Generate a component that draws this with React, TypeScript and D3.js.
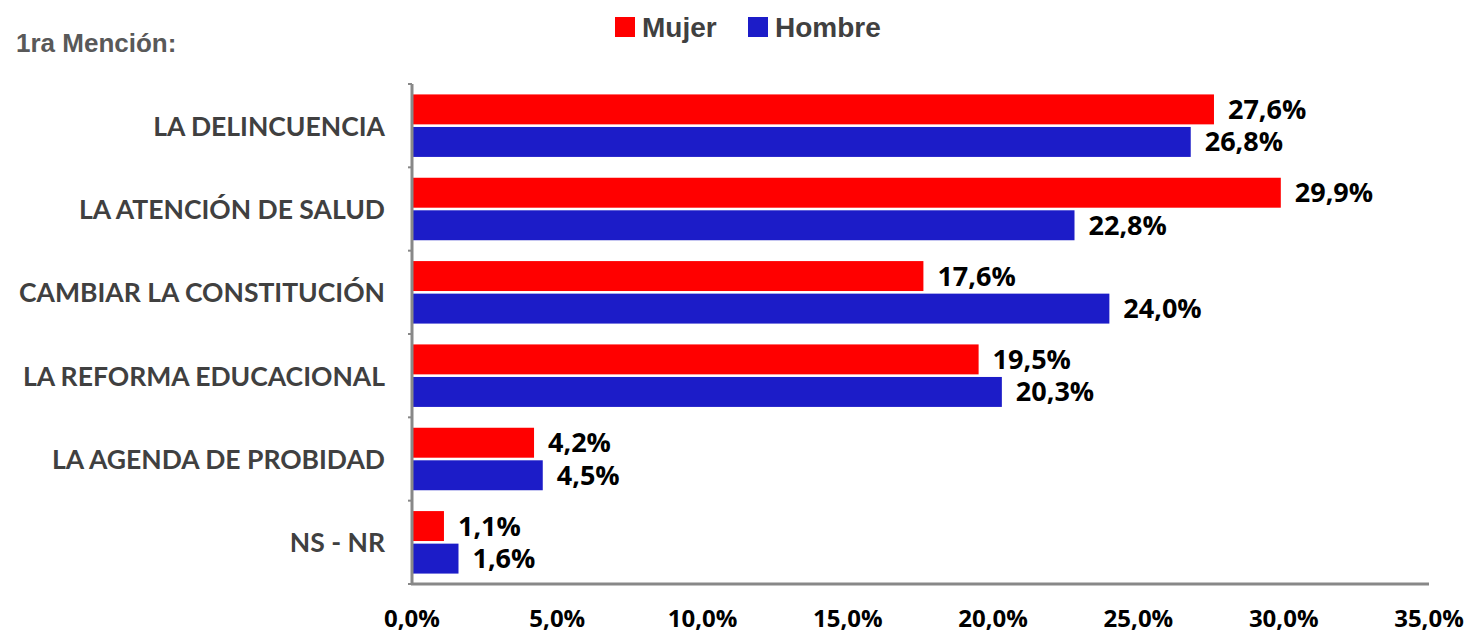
import React from "react";
import * as d3 from "d3";

const categories = [
  "LA DELINCUENCIA",
  "LA ATENCIÓN DE SALUD",
  "CAMBIAR LA CONSTITUCIÓN",
  "LA REFORMA EDUCACIONAL",
  "LA AGENDA DE PROBIDAD",
  "NS - NR",
];
const seriesNames = ["Mujer", "Hombre"];
const mujer = [27.6, 29.9, 17.6, 19.5, 4.2, 1.1];
const hombre = [26.8, 22.8, 24.0, 20.3, 4.5, 1.6];
const xTicks = [0, 5, 10, 15, 20, 25, 30, 35];
const title = "1ra Mención:";

const colors: Record<string, string> = { Mujer: "#ff0000", Hombre: "#1c1cc8" };

const W = 1467;
const H = 634;
const fmt = (v: number) => v.toFixed(1).replace(".", ",") + "%";

export default function App() {
  const x = d3.scaleLinear().domain([0, 35]).range([412, 1429]);
  const y = d3
    .scaleBand<string>()
    .domain(categories)
    .range([84, 584])
    .paddingInner(0.25)
    .paddingOuter(0.125);
  const ys = d3
    .scaleBand<string>()
    .domain(seriesNames)
    .range([0, y.bandwidth()])
    .paddingInner(0.08);
  const values: Record<string, number[]> = { Mujer: mujer, Hombre: hombre };

  const boundaries = d3.range(categories.length + 1).map((i) => 84 + i * y.step());

  return (
    <svg
      width={W}
      height={H}
      style={{ position: "absolute", left: 0, top: 0, background: "#fff" }}
    >
      <text
        x={16}
        y={52}
        fontFamily="'Liberation Sans', Arial, sans-serif"
        fontWeight={700}
        fontSize={26}
        fill="#595959"
      >
        {title}
      </text>

      {/* legend */}
      {seriesNames.map((s, i) => {
        const lx = i === 0 ? 615 : 748;
        return (
          <g key={s}>
            <rect x={lx} y={17} width={20} height={20} fill={colors[s]} />
            <text
              x={lx + 27}
              y={37}
              fontFamily="'Liberation Sans', Arial, sans-serif"
              fontWeight={700}
              fontSize={28}
              fill="#404040"
            >
              {s}
            </text>
          </g>
        );
      })}

      {/* bars */}
      {categories.map((c, ci) =>
        seriesNames.map((s) => {
          const v = values[s][ci];
          const by = (y(c) as number) + (ys(s) as number);
          const bh = ys.bandwidth();
          return (
            <g key={c + s}>
              <rect
                x={x(0) + 1}
                y={by}
                width={x(v) - x(0) - 1}
                height={bh}
                fill={colors[s]}
              />
              <text
                x={x(v) + 14}
                y={by + bh / 2 + 9.5}
                fontFamily="'Open Sans', sans-serif"
                fontWeight={700}
                fontSize={27}
                fill="#000"
              >
                {fmt(v)}
              </text>
            </g>
          );
        })
      )}

      {/* axes */}
      <line x1={412} x2={412} y1={84} y2={585} stroke="#888" strokeWidth={3} />
      {boundaries.map((b, i) => (
        <line key={i} x1={408} x2={412} y1={b} y2={b} stroke="#888" strokeWidth={2} />
      ))}
      <line x1={411} x2={x(35)} y1={584} y2={584} stroke="#888" strokeWidth={3} />

      {categories.map((c) => (
        <text
          key={c}
          x={385}
          y={(y(c) as number) + y.bandwidth() / 2 + 10}
          textAnchor="end"
          fontFamily="Lato, sans-serif"
          fontWeight={700}
          fontSize={26.5}
          fill="#404040"
        >
          {c}
        </text>
      ))}

      {xTicks.map((t) => (
        <text
          key={t}
          x={x(t)}
          y={627}
          textAnchor="middle"
          fontFamily="'Open Sans', sans-serif"
          fontWeight={700}
          fontSize={24}
          fill="#000"
        >
          {fmt(t)}
        </text>
      ))}
    </svg>
  );
}
